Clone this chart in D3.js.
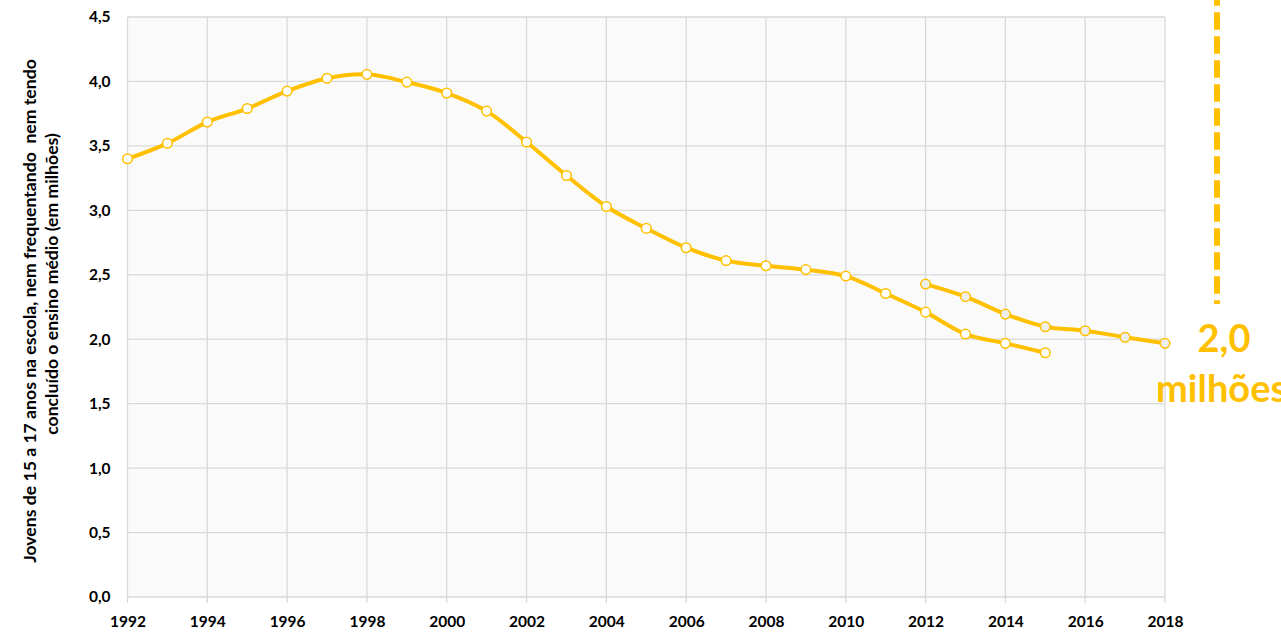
<!DOCTYPE html>
<html><head><meta charset="utf-8">
<script src="https://cdn.jsdelivr.net/npm/d3@7"></script>
<style>
html,body{margin:0;padding:0;background:#fff;overflow:hidden;}
text{font-family:Lato,"Open Sans",sans-serif;font-weight:bold;}
</style></head>
<body>
<svg id="c" width="1281" height="634"></svg>
<script>
const years1 = [1992,1993,1994,1995,1996,1997,1998,1999,2000,2001,2002,2003,2004,2005,2006,2007,2008,2009,2010,2011,2012,2013,2014,2015];
const values1 = [3.40,3.52,3.685,3.79,3.925,4.025,4.055,3.995,3.91,3.77,3.53,3.27,3.03,2.86,2.71,2.61,2.57,2.54,2.49,2.355,2.21,2.04,1.968,1.895];
const years2 = [2012,2013,2014,2015,2016,2017,2018];
const values2 = [2.428,2.33,2.195,2.097,2.066,2.015,1.968];
const xTicks = [1992,1994,1996,1998,2000,2002,2004,2006,2008,2010,2012,2014,2016,2018];
const yTicks = [0,0.5,1,1.5,2,2.5,3,3.5,4,4.5];
const yTitle = ["Jovens de 15 a 17 anos na escola, nem frequentando  nem tendo","concluído o ensino médio (em milhões)"];
const callout = ["2,0","milhões"];

const gold = "#FFC000", grid = "#d9d9d9";
const svg = d3.select("#c");
const L = 127.5, R = 1165, T = 17, B = 597;
const x = d3.scaleLinear().domain([1992,2018]).range([L,R]);
const y = d3.scaleLinear().domain([0,4.5]).range([B,T]);
const fmt = v => d3.format(".1f")(v).replace(".",",");

svg.append("rect").attr("x",L).attr("y",T).attr("width",R-L).attr("height",B-T).attr("fill","#fafafa");

// gridlines
svg.append("g").selectAll("line").data(yTicks).join("line")
  .attr("x1",L).attr("x2",R).attr("y1",d=>y(d)).attr("y2",d=>y(d))
  .attr("stroke",grid).attr("stroke-width",1.3);
svg.append("g").selectAll("line").data(xTicks).join("line")
  .attr("x1",d=>x(d)).attr("x2",d=>x(d)).attr("y1",T).attr("y2",B+6)
  .attr("stroke",grid).attr("stroke-width",1.3);

// axes labels via d3 axes
const xa = svg.append("g").attr("transform",`translate(0,${B})`)
  .call(d3.axisBottom(x).tickValues(xTicks).tickFormat(d3.format("d")).tickSize(0).tickPadding(19));
xa.select(".domain").remove();
xa.selectAll("text").attr("font-size",15.5).attr("fill","#000").style("font-family","Lato,sans-serif").style("font-weight","bold");
const ya = svg.append("g").attr("transform",`translate(${L},0)`)
  .call(d3.axisLeft(y).tickValues(yTicks).tickFormat(fmt).tickSize(0).tickPadding(17));
ya.select(".domain").remove();
ya.selectAll("text").attr("font-size",15.5).attr("fill","#000").style("font-family","Lato,sans-serif").style("font-weight","bold");

// y title: size chosen so first line fits its measured span
const probe = svg.append("text").attr("font-size",14).text(yTitle[0]);
const w0 = probe.node().getComputedTextLength();
probe.remove();
const fs = 14 * 500 / w0;
const centers = [[36,311],[58,284]];
yTitle.forEach((t,i)=>{
  svg.append("text").attr("transform",`translate(${centers[i][0]},${centers[i][1]}) rotate(-90)`)
    .attr("text-anchor","middle").attr("font-size",fs).attr("fill","#000").style("white-space","pre").text(t);
});

const line = d3.line().x(d=>x(d[0])).y(d=>y(d[1])).curve(d3.curveCatmullRom.alpha(0.5));
const d1 = years1.map((yr,i)=>[yr,values1[i]]);
const d2 = years2.map((yr,i)=>[yr,values2[i]]);
[[d1,"#fff"],[d2,"#eeeeee"]].forEach(([d,fill])=>{
  svg.append("path").datum(d).attr("d",line).attr("fill","none").attr("stroke",gold).attr("stroke-width",4).attr("stroke-linejoin","round");
});
[[d1,"#fff"],[d2,"#eeeeee"]].forEach(([d,fill])=>{
  svg.append("g").selectAll("circle").data(d).join("circle")
    .attr("cx",p=>x(p[0])).attr("cy",p=>y(p[1])).attr("r",4.8)
    .attr("fill",fill).attr("stroke",gold).attr("stroke-width",1.5);
});

// dashed callout line
svg.append("line").attr("x1",1217).attr("x2",1217).attr("y1",-11.7).attr("y2",304)
  .attr("stroke",gold).attr("stroke-width",6).attr("stroke-dasharray","17.5,6.5");
svg.append("text").attr("x",1224).attr("y",352).attr("text-anchor","middle").attr("font-size",38).attr("fill",gold).text(callout[0]);
svg.append("text").attr("x",1156).attr("y",402).attr("text-anchor","start").attr("font-size",38).attr("fill",gold).text(callout[1]);
</script>
</body></html>
